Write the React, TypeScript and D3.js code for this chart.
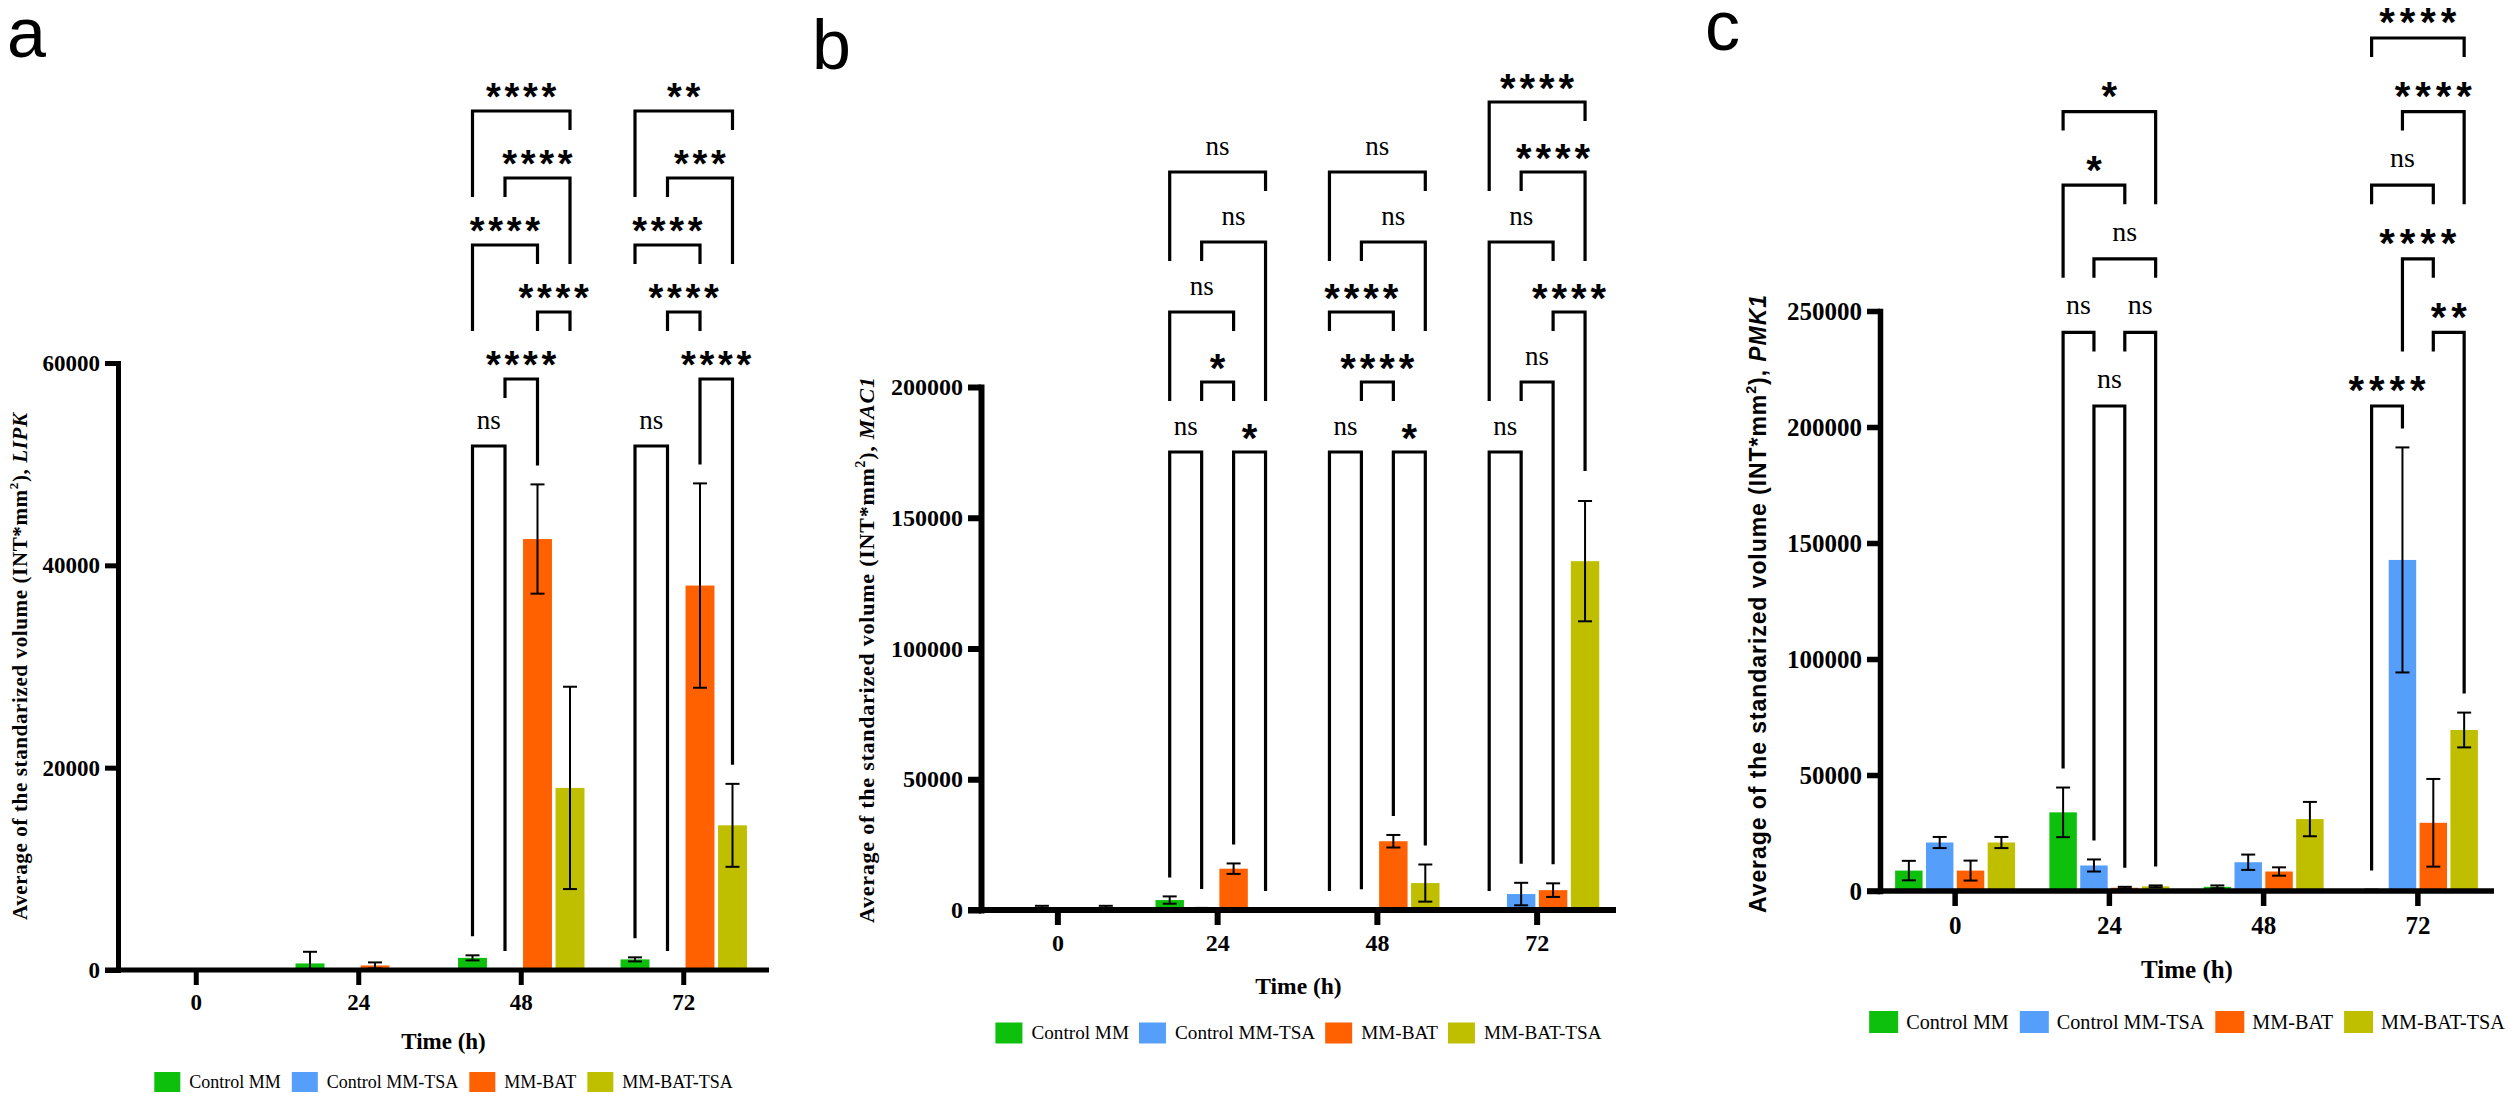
import React, { useEffect, useRef } from "react";
import * as d3 from "d3";

// ---------- DATA ----------
const timeLabels = ["0", "24", "48", "72"];
const seriesNames = ["Control MM", "Control MM-TSA", "MM-BAT", "MM-BAT-TSA"];
const seriesColors = ["#0CC00C", "#559FFA", "#FF6000", "#BFBF00"];

// rows = series (Control MM, Control MM-TSA, MM-BAT, MM-BAT-TSA), columns = time (0, 24, 48, 72 h)
const lipkMean = [
  [0, 650, 1200, 1050],
  [0, 0, 0, 0],
  [0, 450, 42600, 38000],
  [0, 0, 18000, 14300],
];
const lipkSem = [
  [0, 1150, 250, 200],
  [0, 0, 0, 0],
  [0, 300, 5400, 10100],
  [0, 0, 10000, 4100],
];
const lipkTicks = [0, 20000, 40000, 60000];

const mac1Mean = [
  [0, 3800, 0, 0],
  [1000, 600, 500, 6100],
  [0, 15800, 26300, 7600],
  [1000, 0, 10300, 133400],
];
const mac1Sem = [
  [0, 1400, 0, 0],
  [600, 200, 200, 4300],
  [0, 2000, 2400, 2600],
  [600, 0, 7100, 23000],
];
const mac1Ticks = [0, 50000, 100000, 150000, 200000];

const pmk1Mean = [
  [8800, 33900, 1800, 400],
  [20900, 11000, 12400, 142700],
  [8800, 1400, 8400, 29400],
  [20900, 2000, 31000, 69400],
];
const pmk1Sem = [
  [4200, 10700, 600, 200],
  [2400, 2600, 3300, 48500],
  [4300, 400, 1800, 18900],
  [2400, 400, 7400, 7500],
];
const pmk1Ticks = [0, 50000, 100000, 150000, 200000, 250000];

// significance brackets: [time index, series A, series B, label, level, left-leg level, right-leg level]
// leg level -1 = leg runs down to the bar
const lipkBrackets: [number, number, number, string, number, number, number][] = [
  [2, 0, 3, "****", 5, 4, 5],
  [2, 1, 3, "****", 4, 4, 3],
  [2, 0, 2, "****", 3, 2, 3],
  [2, 2, 3, "****", 2, 2, 2],
  [2, 1, 2, "****", 1, 1, -1],
  [2, 0, 1, "ns", 0, -1, -1],
  [3, 0, 3, "**", 5, 4, 5],
  [3, 1, 3, "***", 4, 4, 3],
  [3, 0, 2, "****", 3, 3, 3],
  [3, 1, 2, "****", 2, 2, 2],
  [3, 2, 3, "****", 1, -1, -1],
  [3, 0, 1, "ns", 0, -1, -1],
];
const mac1Brackets: [number, number, number, string, number, number, number][] = [
  [1, 0, 3, "ns", 4, 3, 4],
  [1, 1, 3, "ns", 3, 3, 1],
  [1, 0, 2, "ns", 2, 1, 2],
  [1, 1, 2, "*", 1, 1, 1],
  [1, 0, 1, "ns", 0, -1, -1],
  [1, 2, 3, "*", 0, -1, -1],
  [2, 0, 3, "ns", 4, 3, 4],
  [2, 1, 3, "ns", 3, 3, 2],
  [2, 0, 2, "****", 2, 2, 2],
  [2, 1, 2, "****", 1, 1, 1],
  [2, 0, 1, "ns", 0, -1, -1],
  [2, 2, 3, "*", 0, -1, -1],
  [3, 0, 3, "****", 5, 4, 5],
  [3, 1, 3, "****", 4, 4, 3],
  [3, 0, 2, "ns", 3, 1, 3],
  [3, 2, 3, "****", 2, 2, 0],
  [3, 1, 2, "ns", 1, 1, -1],
  [3, 0, 1, "ns", 0, -1, -1],
];
const pmk1Brackets: [number, number, number, string, number, number, number][] = [
  [1, 0, 3, "*", 4, 4, 3],
  [1, 0, 2, "*", 3, 2, 3],
  [1, 1, 3, "ns", 2, 2, 2],
  [1, 0, 1, "ns", 1, -1, 1],
  [1, 2, 3, "ns", 1, 1, -1],
  [1, 1, 2, "ns", 0, -1, -1],
  [3, 0, 3, "****", 5, 5, 5],
  [3, 1, 3, "****", 4, 4, 3],
  [3, 0, 2, "ns", 3, 3, 3],
  [3, 1, 2, "****", 2, 1, 2],
  [3, 2, 3, "**", 1, 1, -1],
  [3, 0, 1, "****", 0, -1, -1],
];

// ---------- LAYOUT ----------
const SERIF = "'Liberation Serif', 'Times New Roman', serif";
const SANS = "'Liberation Sans', Arial, sans-serif";

const panels = [
  {
    letter: "a", gene: "LIPK", mean: lipkMean, sem: lipkSem, ticks: lipkTicks, brackets: lipkBrackets,
    letterX: 7, letterY: 57,
    axisX: 118, xStart: 105, xEnd: 769, bandStart: 115, bandEnd: 765, y0: 970, yTop: 363,
    axisW: 5, tickFs: 23, xLabelY: 1002, timeY: 1042, timeFs: 23,
    legendY: 1082, legendFs: 18, swW: 26, swH: 20, swGap: 9, itemGap: 11,
    titleFont: SERIF, titleFs: 21, titleX: 27, titleY: 920, titleLen: 507,
    rowBase: 446, rowStep: 67, labelOff: 23, nsFs: 27, astFs: 38, astAdv: 18.5,
  },
  {
    letter: "b", gene: "MAC1", mean: mac1Mean, sem: mac1Sem, ticks: mac1Ticks, brackets: mac1Brackets,
    letterX: 812, letterY: 69,
    axisX: 981, xStart: 968, xEnd: 1616, bandStart: 978, bandEnd: 1617, y0: 910, yTop: 387,
    axisW: 6, tickFs: 24, xLabelY: 943, timeY: 987, timeFs: 23.5,
    legendY: 1033, legendFs: 19.2, swW: 27, swH: 21, swGap: 9, itemGap: 10,
    titleFont: SERIF, titleFs: 22, titleX: 874, titleY: 923, titleLen: 546,
    rowBase: 452, rowStep: 70, labelOff: 23, nsFs: 27, astFs: 40, astAdv: 19.5,
  },
  {
    letter: "c", gene: "PMK1", mean: pmk1Mean, sem: pmk1Sem, ticks: pmk1Ticks, brackets: pmk1Brackets,
    letterX: 1705, letterY: 50,
    axisX: 1880, xStart: 1867, xEnd: 2494, bandStart: 1878, bandEnd: 2495, y0: 891, yTop: 311,
    axisW: 5.5, tickFs: 25, xLabelY: 925, timeY: 970, timeFs: 25,
    legendY: 1022, legendFs: 20.2, swW: 29, swH: 22, swGap: 8, itemGap: 11,
    titleFont: SANS, titleFs: 23, titleX: 1766, titleY: 913, titleLen: 618,
    rowBase: 406, rowStep: 73.6, labelOff: 24.5, nsFs: 28, astFs: 40, astAdv: 20.5,
  },
];

type Panel = (typeof panels)[number];

function drawPanel(svg: d3.Selection<SVGSVGElement, unknown, null, undefined>, P: Panel) {
  const g = svg.append("g");
  const yMax = P.ticks[P.ticks.length - 1];
  const y = d3.scaleLinear().domain([0, yMax]).range([P.y0, P.yTop]);
  const x0 = d3.scaleBand<string>().domain(timeLabels).range([P.bandStart, P.bandEnd]);
  const bw = x0.bandwidth();
  const x1 = d3
    .scaleBand<number>()
    .domain([0, 1, 2, 3])
    .range([0.1 * bw, 0.9 * bw])
    .paddingInner(0.11)
    .paddingOuter(0.055);
  const barW = x1.bandwidth();
  const cx = (t: number, s: number) => (x0(timeLabels[t]) as number) + (x1(s) as number) + barW / 2;

  // panel letter
  g.append("text")
    .attr("x", P.letterX)
    .attr("y", P.letterY)
    .attr("font-family", SANS)
    .attr("font-size", 70)
    .text(P.letter);

  // bars
  const cells: { s: number; t: number; m: number; e: number }[] = [];
  P.mean.forEach((row, s) => row.forEach((m, t) => cells.push({ s, t, m, e: P.sem[s][t] })));

  g.append("g")
    .selectAll("rect")
    .data(cells.filter((d) => d.m > 0))
    .join("rect")
    .attr("x", (d) => cx(d.t, d.s) - barW / 2)
    .attr("y", (d) => y(d.m))
    .attr("width", barW)
    .attr("height", (d) => P.y0 - y(d.m))
    .attr("fill", (d) => seriesColors[d.s]);

  // error bars
  const eb = g.append("g").attr("stroke", "#000").attr("stroke-width", 2).attr("fill", "none");
  cells
    .filter((d) => d.m > 0 && d.e > 0)
    .forEach((d) => {
      const x = cx(d.t, d.s);
      const yt = y(d.m + d.e);
      const yb = y(Math.max(0, d.m - d.e));
      eb.append("line").attr("x1", x).attr("x2", x).attr("y1", yt).attr("y2", yb);
      eb.append("line").attr("x1", x - 7).attr("x2", x + 7).attr("y1", yt).attr("y2", yt);
      if (d.m - d.e > 0) eb.append("line").attr("x1", x - 7).attr("x2", x + 7).attr("y1", yb).attr("y2", yb);
    });

  // y axis
  const yAxis = d3
    .axisLeft(y)
    .tickValues(P.ticks)
    .tickSize(13)
    .tickSizeOuter(0)
    .tickPadding(5)
    .tickFormat(d3.format("d"));
  const ya = g.append("g").attr("transform", `translate(${P.axisX},0)`).call(yAxis);
  ya.select(".domain").attr("stroke", "#000").attr("stroke-width", P.axisW).attr("stroke-linecap", "square");
  ya.selectAll(".tick line").attr("stroke", "#000").attr("stroke-width", P.axisW);
  ya.selectAll(".tick text")
    .attr("font-family", SERIF)
    .attr("font-weight", "bold")
    .attr("font-size", P.tickFs)
    .attr("fill", "#000");

  // x axis
  g.append("line")
    .attr("x1", P.xStart)
    .attr("x2", P.xEnd)
    .attr("y1", P.y0)
    .attr("y2", P.y0)
    .attr("stroke", "#000")
    .attr("stroke-width", P.axisW);
  const xAxis = d3.axisBottom(x0).tickSize(15).tickSizeOuter(0).tickPadding(0);
  const xa = g.append("g").attr("transform", `translate(0,${P.y0})`).call(xAxis);
  xa.select(".domain").remove();
  xa.selectAll(".tick line").attr("stroke", "#000").attr("stroke-width", P.axisW);
  xa.selectAll(".tick text")
    .attr("y", P.xLabelY - P.y0 + 0.34 * P.tickFs)
    .attr("dy", null)
    .attr("font-family", SERIF)
    .attr("font-weight", "bold")
    .attr("font-size", P.tickFs)
    .attr("fill", "#000");

  // x title
  g.append("text")
    .attr("x", (P.axisX + P.xEnd) / 2)
    .attr("y", P.timeY + 0.3 * P.timeFs)
    .attr("text-anchor", "middle")
    .attr("font-family", SERIF)
    .attr("font-weight", "bold")
    .attr("font-size", P.timeFs)
    .text("Time (h)");

  // y title
  const yt = g
    .append("text")
    .attr("transform", `translate(${P.titleX},${P.titleY}) rotate(-90)`)
    .attr("font-family", P.titleFont)
    .attr("font-weight", "bold")
    .attr("font-size", P.titleFs)
    .attr("textLength", P.titleLen)
    .attr("lengthAdjust", "spacing");
  yt.append("tspan").text("Average of the standarized volume (INT*mm");
  yt.append("tspan").attr("dy", -0.42 * P.titleFs).attr("font-size", 0.62 * P.titleFs).text("2");
  yt.append("tspan").attr("dy", 0.42 * P.titleFs).text("), ");
  yt.append("tspan").attr("font-style", "italic").text(P.gene);

  // brackets
  const rowY = (k: number) => P.rowBase - k * P.rowStep;
  const legEnd = (k: number, t: number, s: number) => {
    if (k >= 0) return rowY(k) + 19;
    const top = P.mean[s][t] + P.sem[s][t];
    return y(top) - 19;
  };
  const bg = g.append("g");
  P.brackets.forEach(([t, a, b, label, row, l, r]) => {
    const xa2 = cx(t, a);
    const xb2 = cx(t, b);
    const ry = rowY(row);
    const path = d3.path();
    path.moveTo(xa2, legEnd(l, t, a));
    path.lineTo(xa2, ry);
    path.lineTo(xb2, ry);
    path.lineTo(xb2, legEnd(r, t, b));
    bg.append("path")
      .attr("d", path.toString())
      .attr("fill", "none")
      .attr("stroke", "#000")
      .attr("stroke-width", 3.2)
      .attr("stroke-linejoin", "miter");
    const centerY = ry - P.labelOff;
    const mx = (xa2 + xb2) / 2;
    if (label === "ns") {
      bg.append("text")
        .attr("x", mx)
        .attr("y", centerY + 0.23 * P.nsFs)
        .attr("text-anchor", "middle")
        .attr("font-family", SERIF)
        .attr("font-size", P.nsFs)
        .text(label);
    } else {
      const ls = P.astAdv - 0.389 * P.astFs;
      bg.append("text")
        .attr("x", mx + ls / 2)
        .attr("y", centerY + 0.57 * P.astFs)
        .attr("text-anchor", "middle")
        .attr("font-family", SANS)
        .attr("font-weight", "bold")
        .attr("font-size", P.astFs)
        .attr("letter-spacing", ls)
        .text(label);
    }
  });

  // legend
  const lg = g.append("g");
  const items = seriesNames.map((name, i) => {
    const it = lg.append("g");
    it.append("rect").attr("width", P.swW).attr("height", P.swH).attr("y", -P.swH / 2).attr("fill", seriesColors[i]);
    const tx = it
      .append("text")
      .attr("x", P.swW + P.swGap)
      .attr("y", 0.33 * P.legendFs)
      .attr("font-family", SERIF)
      .attr("font-size", P.legendFs)
      .text(name);
    const w = (tx.node() as SVGTextElement).getComputedTextLength();
    return { it, w: P.swW + P.swGap + w };
  });
  const total = d3.sum(items, (d) => d.w) + P.itemGap * (items.length - 1);
  let lx = (P.axisX + P.xEnd) / 2 - total / 2;
  items.forEach((d) => {
    d.it.attr("transform", `translate(${lx},${P.legendY})`);
    lx += d.w + P.itemGap;
  });
}

export default function App() {
  const ref = useRef<SVGSVGElement | null>(null);
  useEffect(() => {
    if (!ref.current) return;
    const svg = d3.select(ref.current);
    svg.selectAll("*").remove();
    svg.append("rect").attr("width", 2508).attr("height", 1096).attr("fill", "#fff");
    panels.forEach((P) => drawPanel(svg, P));
  }, []);
  return (
    <svg
      ref={ref}
      width={2508}
      height={1096}
      style={{ position: "fixed", left: 0, top: 0, display: "block", background: "#fff" }}
    />
  );
}
